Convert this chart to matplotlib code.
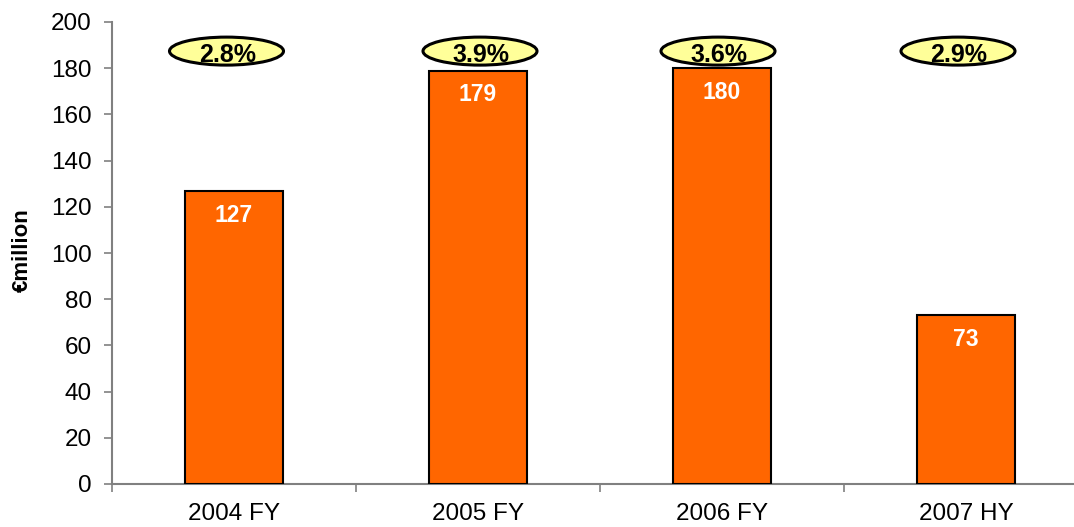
import matplotlib
matplotlib.use("Agg")
import matplotlib.pyplot as plt
from matplotlib.patches import Ellipse
import numpy as np

categories = ["2004 FY", "2005 FY", "2006 FY", "2007 HY"]
values = [127, 179, 180, 73]
margins = ["2.8%", "3.9%", "3.6%", "2.9%"]
y_ticks = [0, 20, 40, 60, 80, 100, 120, 140, 160, 180, 200]

# horizontal nudge of each margin badge, in pixels
badge_shift_px = [-7.5, 2, -4, -8]

plt.rcParams["font.family"] = ["Liberation Sans", "DejaVu Sans"]

W, H = 1074, 527
fig = plt.figure(figsize=(W / 100, H / 100), dpi=100)
ax_left, ax_bottom, ax_w, ax_h = 112, 43, 976, 462
ax = fig.add_axes([ax_left / W, ax_bottom / H, ax_w / W, ax_h / H])

x = np.arange(len(categories))
ax.bar(x, values, width=0.405, color="#FF6600", edgecolor="black", linewidth=1.5, zorder=3)

ax.set_xlim(-0.5, len(categories) - 0.5)
ax.set_ylim(0, 200)
ax.set_yticks(y_ticks)
ax.set_yticklabels([str(t) for t in y_ticks], fontsize=17.5)

ax.set_xticks(x)
ax.set_xticklabels(categories, fontsize=17.5)
ax.tick_params(axis="x", length=0, pad=13.5)
ax.set_xticks(np.arange(len(categories) + 1) - 0.5, minor=True)
ax.tick_params(axis="x", which="minor", length=6, width=1.2, color="#808080", direction="out")
ax.tick_params(axis="y", length=6, width=1.2, color="#808080", direction="out", pad=8.5)

for s in ["top", "right"]:
    ax.spines[s].set_visible(False)
for s in ["left", "bottom"]:
    ax.spines[s].set_color("#808080")
    ax.spines[s].set_linewidth(1.5)

ax.set_ylabel("€million", fontsize=16, fontweight="bold")
ax.yaxis.set_label_coords((33 - ax_left) / ax_w, (484 - 250) / ax_h)

# value labels inside each bar
for xi, v in zip(x, values):
    ax.text(xi, v - 13.4, str(v), ha="center", va="baseline", color="white",
            fontsize=16.5, fontweight="bold", zorder=4)

# margin badges above the bars
px_per_x = ax_w / len(categories)
px_per_y = ax_h / 200
ell_w = 114 / px_per_x
ell_h = 28 / px_per_y
ell_y = 187.4
for xi, m, dx in zip(x, margins, badge_shift_px):
    cx = xi + dx / px_per_x
    ax.add_patch(Ellipse((cx, ell_y), ell_w, ell_h, facecolor="#FFFF99",
                         edgecolor="black", linewidth=2.2, zorder=5, clip_on=False))
    ax.text(cx + 1 / px_per_x, ell_y - 4.8, m, ha="center", va="baseline", color="black",
            fontsize=18, fontweight="bold", zorder=6)

fig.savefig("out.png", dpi=100)
